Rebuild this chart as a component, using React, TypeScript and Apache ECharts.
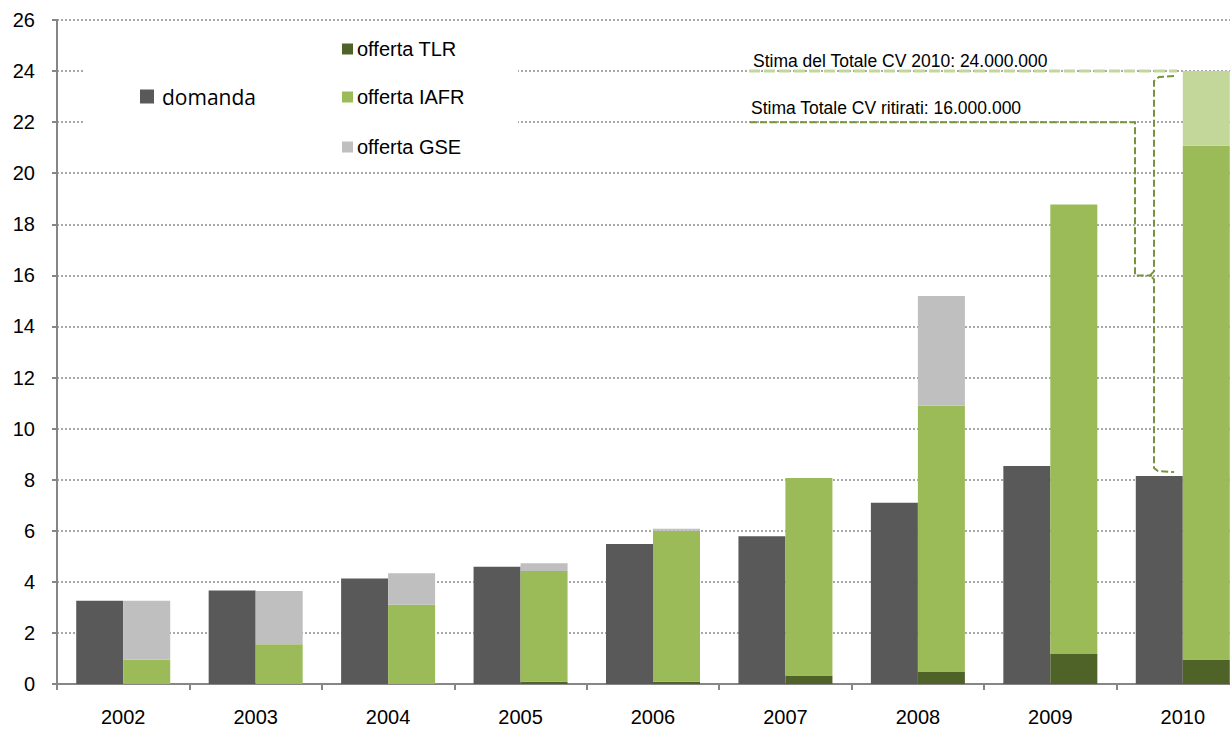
import React, { useEffect, useRef } from "react";
import * as echarts from "echarts";

const years = ["2002", "2003", "2004", "2005", "2006", "2007", "2008", "2009", "2010"];
const domanda = [3.26, 3.66, 4.13, 4.59, 5.48, 5.79, 7.1, 8.54, 8.14];
const offertaTLR = [0, 0, 0, 0.09, 0.09, 0.33, 0.49, 1.17, 0.96];
const offertaIAFR = [0.95, 1.56, 3.1, 4.33, 5.91, 7.74, 10.41, 17.61, 20.12];
const offertaGSE = [2.31, 2.08, 1.24, 0.31, 0.08, 0, 4.29, 0, 2.92];
const estimatedYear = "2010";
const stimaTotale = 24;
const stimaRitirati = 16;
const yTicks = { min: 0, max: 26, interval: 2 };
const labelTotale = "Stima del Totale CV 2010: 24.000.000";
const labelRitirati = "Stima Totale CV ritirati: 16.000.000";

const C_DOM = "#595959";
const C_TLR = "#4f6228";
const C_IAFR = "#9bbb59";
const C_GSE = "#bfbfbf";
const C_EST = "#c4d79b";
const C_DASH = "#77933c";
const FONT = "Liberation Sans, Arial, sans-serif";

export default function App() {
  const ref = useRef<HTMLDivElement>(null);
  useEffect(() => {
    if (!ref.current) return;
    const chart = echarts.init(ref.current, null, { renderer: "svg" });
    const legendText = { fontFamily: FONT, fontSize: 20, color: "#000", padding: [0, 0, 0, -1] };
    const option: any = {
      animation: false,
      grid: { left: 57, right: 11, top: 20, bottom: 53 },
      legend: [
        {
          data: ["domanda"], left: 140, top: 86, padding: 0, itemWidth: 14, itemHeight: 14,
          icon: "rect", textStyle: { fontFamily: "Open Sans, sans-serif", fontSize: 21, color: "#000", padding: [0, 0, 0, 3] },
          selectedMode: false,
        },
        { data: ["offerta TLR"], left: 342, top: 39, padding: 0, itemWidth: 11, itemHeight: 11, icon: "rect", textStyle: legendText, selectedMode: false },
        { data: ["offerta IAFR"], left: 342, top: 87, padding: 0, itemWidth: 11, itemHeight: 11, icon: "rect", textStyle: legendText, selectedMode: false },
        { data: ["offerta GSE"], left: 342, top: 137, padding: 0, itemWidth: 11, itemHeight: 11, icon: "rect", textStyle: legendText, selectedMode: false },
      ],
      xAxis: {
        type: "category",
        data: years,
        axisLine: { lineStyle: { color: "#868686", width: 2 } },
        axisTick: { show: true, length: 6, lineStyle: { color: "#868686", width: 2 } },
        axisLabel: { fontFamily: FONT, fontSize: 20, color: "#000", margin: 23 },
      },
      yAxis: {
        type: "value",
        min: yTicks.min,
        max: yTicks.max,
        interval: yTicks.interval,
        axisLine: { show: true, lineStyle: { color: "#868686", width: 2 } },
        axisTick: { show: true, length: 5, lineStyle: { color: "#868686", width: 2 } },
        axisLabel: { fontFamily: FONT, fontSize: 20, color: "#000", margin: 22 },
        splitLine: { show: true, lineStyle: { color: "#8c8c8c", type: [2, 2], width: 1.5 } },
      },
      series: [
        { name: "domanda", type: "bar", stack: "d", barWidth: 47, barGap: "0%", data: domanda, itemStyle: { color: C_DOM }, z: 3 },
        { name: "offerta TLR", type: "bar", stack: "o", barWidth: 47, barGap: "0%", data: offertaTLR, itemStyle: { color: C_TLR }, z: 3 },
        { name: "offerta IAFR", type: "bar", stack: "o", barWidth: 47, barGap: "0%", data: offertaIAFR, itemStyle: { color: C_IAFR }, z: 3 },
        {
          name: "offerta GSE", type: "bar", stack: "o", barWidth: 47, barGap: "0%",
          data: offertaGSE.map((v, i) => (years[i] === estimatedYear ? { value: v, itemStyle: { color: C_EST } } : v)),
          itemStyle: { color: C_GSE }, z: 3,
        },
      ],
    };
    chart.setOption(option);

    const y24 = chart.convertToPixel({ yAxisIndex: 0 }, stimaTotale) as number;
    const y22 = chart.convertToPixel({ yAxisIndex: 0 }, 22) as number;
    const y16 = chart.convertToPixel({ yAxisIndex: 0 }, stimaRitirati) as number;
    const yDom = chart.convertToPixel({ yAxisIndex: 0 }, domanda[domanda.length - 1]) as number;
    const bx = 1154;
    chart.setOption({
      graphic: [
        { type: "rect", shape: { x: 84, y: 26, width: 434, height: 141 }, style: { fill: "#fff" }, z: 1, silent: true },
        {
          type: "line", shape: { x1: 749, y1: y24, x2: 1177, y2: y24 },
          style: { stroke: C_EST, lineWidth: 3, lineDash: [11, 4] }, z: 5,
        },
        {
          type: "polyline",
          shape: { points: [[750, y22], [1135, y22], [1135, y16], [bx - 2, y16]] },
          style: { stroke: C_DASH, lineWidth: 2, lineDash: [7, 3], fill: null }, z: 5,
        },
        {
          type: "polyline",
          shape: {
            points: [
              [1174, y24 + 5], [1159, y24 + 6], [bx, y24 + 10], [bx, y16 - 4], [bx - 4, y16],
              [bx, y16 + 4], [bx, yDom - 8], [bx + 4, yDom - 5], [1174, yDom - 4],
            ],
          },
          style: { stroke: C_DASH, lineWidth: 2, lineDash: [7, 3], fill: null }, z: 5,
        },
        {
          type: "text", x: 753, y: y24 - 10,
          style: { text: labelTotale, fontFamily: FONT, fontSize: 17.5, fill: "#000", textVerticalAlign: "middle", verticalAlign: "middle" }, z: 5,
        },
        {
          type: "text", x: 751, y: y22 - 14,
          style: { text: labelRitirati, fontFamily: FONT, fontSize: 17.5, fill: "#000", textVerticalAlign: "middle", verticalAlign: "middle" }, z: 5,
        },
      ],
    });
    return () => chart.dispose();
  }, []);
  return (
    <div style={{ position: "fixed", left: 0, top: 0, width: 1230, height: 737, overflow: "hidden", background: "#fff" }}>
      <div ref={ref} style={{ width: 1260, height: 737 }} />
    </div>
  );
}
